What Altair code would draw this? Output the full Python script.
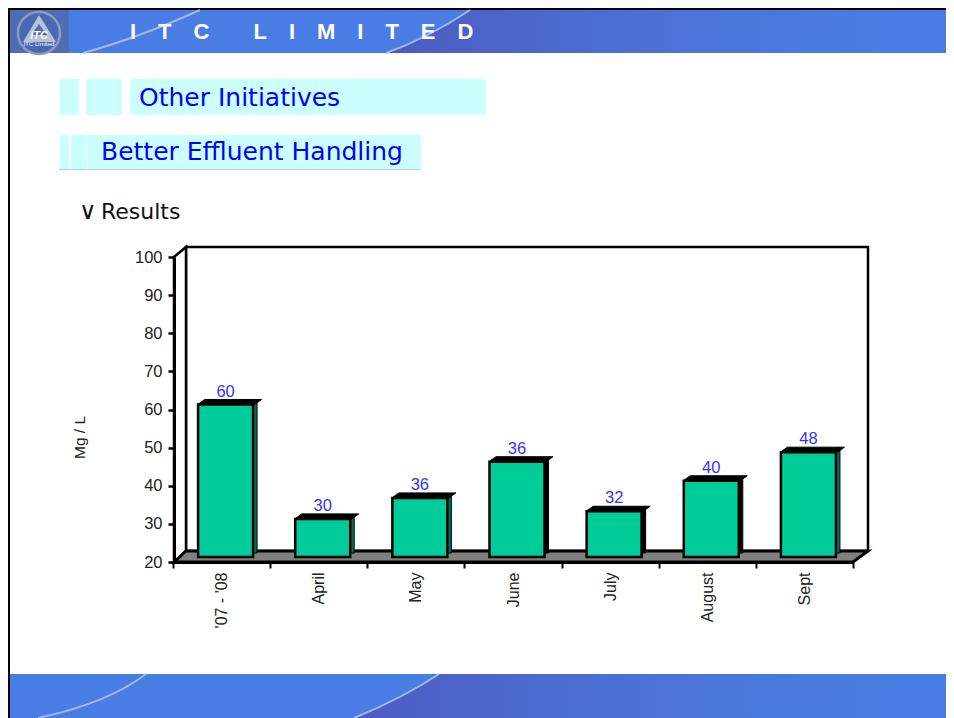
import altair as alt
import pandas as pd

# ---- chart values ----
months = ["'07 - '08", "April", "May", "June", "July", "August", "Sept"]
bar_heights = [60, 30, 35.5, 45, 32, 40, 47.5]
bar_labels = ["60", "30", "36", "36", "32", "40", "48"]
side_colours = ["#00705a", "#00705a", "#00705a", "#000000", "#000000", "#000000", "#00705a"]
y_ticks = [20, 30, 40, 50, 60, 70, 80, 90, 100]

W, H = 938, 710
table = pd.DataFrame({"month": months, "height": bar_heights, "label": bar_labels, "side": side_colours})
one = alt.Data(values=[{"k": 0}])

FONT = "Liberation Sans"
LIGHT = "#4a7de3"


def shape(path, fill="transparent", stroke="transparent", sw=0):
    """Decoration drawn as a custom symbol (size 4 = path units are pixels)."""
    return alt.Chart(one).mark_point(
        shape=path, size=4, filled=True, fill=fill, stroke=stroke, strokeWidth=sw, opacity=1
    ).encode(x=alt.value(0), y=alt.value(0))


def box(x0, y0, x1, y1, fill):
    return alt.Chart(one).mark_rect(fill=fill).encode(
        x=alt.value(x0), x2=alt.value(x1), y=alt.value(y0), y2=alt.value(y1)
    )


def label(txt, x, y, size, color, font=FONT, weight="normal", align="left", style="normal", angle=0):
    return alt.Chart(one).mark_text(
        text=txt, font=font, fontSize=size, color=color, fontWeight=weight, align=align,
        baseline="alphabetic", fontStyle=style, angle=angle
    ).encode(x=alt.value(x), y=alt.value(y))


def band_gradient():
    return alt.LinearGradient(
        gradient="linear", x1=0, x2=1, y1=0, y2=0,
        stops=[
            alt.GradientStop(offset=0, color="#4d5bc2"),
            alt.GradientStop(offset=0.25, color="#4c67cc"),
            alt.GradientStop(offset=0.55, color="#4b74da"),
            alt.GradientStop(offset=0.9, color=LIGHT),
            alt.GradientStop(offset=1, color=LIGHT),
        ],
    )


decor = [
    # page frame
    box(0, 0, W, 2, "#000000"),
    box(0, 0, 2, H, "#000000"),
    # top banner
    box(2, 2, 380, 45, LIGHT),
    box(380, 2, W, 45, band_gradient()),
    shape("M378 2 L462 2 Q420 30 378 45 Z", fill=LIGHT),
    shape("M75 45 Q130 30 192 2", stroke="#9fb8ef", sw=2),
    shape("M378 45 Q420 30 462 2", stroke="#9fb8ef", sw=2),
    # bottom banner
    box(2, 666, 340, H, LIGHT),
    box(340, 666, W, H, band_gradient()),
    shape("M340 666 L431 666 Q395 690 346 710 L340 710 Z", fill=LIGHT),
    shape("M138 666 Q100 695 30 710", stroke="#9fb8ef", sw=2),
    shape("M431 666 Q395 690 346 710", stroke="#9fb8ef", sw=2),
    # logo
    box(2, 2, 61, 45, "#4f6db4"),
    shape("M31 4 A 21 21 0 1 1 30.9 4 Z", fill="#4a69b0", stroke="#8a9cc6", sw=2.5),
    shape("M31 7 L48 34 L15 34 Z", fill="#b4c3da"),
    shape("M31 16 L39 27 L23 27 Z", fill="#4f6db4"),
    label("ITC", 31, 31, 11, "#ffffff", weight="bold", align="center", style="italic"),
    label("ITC Limited", 31, 38, 6, "#ffffff", align="center"),
    # banner title
    label("I\u2003T\u2003C\u2003\u2003L\u2003I\u2003M\u2003I\u2003T\u2003E\u2003D", 122, 31, 22, "#ffffff", weight="bold"),
    # heading boxes
    box(52, 71, 71, 107, "#ccffff"),
    box(78, 71, 114, 107, "#ccffff"),
    box(122, 71, 478, 107, "#ccffff"),
    box(52, 127, 61, 162, "#ccffff"),
    box(63, 127, 79, 162, "#ccffff"),
    box(80, 127, 413, 162, "#ccffff"),
    box(51, 161, 413, 162, "#a8d4d4"),
    label("Other Initiatives", 131, 98, 25, "#0000ff", font="DejaVu Sans"),
    label("Better Effluent Handling", 93, 152, 25, "#0000ff", font="DejaVu Sans"),
    label("\u2228", 71, 211, 24, "#111111", font="DejaVu Sans"),
    label("Results", 93, 211, 22, "#111111", font="DejaVu Sans"),
    # 3-D chart box
    box(178, 239, 860, 543, "#ffffff"),
    shape("M178 239 L860 239 L860 543 L178 543 Z", stroke="#000000", sw=2.5),
    shape("M166 249 L178 239 L178 543 L166 554 Z", fill="#ffffff", stroke="#000000", sw=2.5),
    shape("M166 554 L178 543 L860 543 L845 554 Z", fill="#808080", stroke="#000000", sw=3),
]

x_enc = alt.X(
    "month:N",
    sort=months,
    scale=alt.Scale(domain=months, range=[165, 845], paddingInner=0, paddingOuter=0),
    axis=alt.Axis(
        title=None, labelAngle=-90, labelFont=FONT, labelFontSize=16, labelColor="#222222",
        tickBand="extent", tickSize=6, tickWidth=2, tickColor="#000000", domainWidth=3, domainColor="#000000",
        offset=554 - H, labelPadding=4, grid=False, zindex=1,
    ),
)
y_enc = alt.Y(
    "height:Q",
    scale=alt.Scale(domain=[20, 100], range=[554, 249], nice=False, zero=False),
    axis=alt.Axis(
        title="Mg / L", titleFont=FONT, titleFontSize=15.5, titleFontWeight="normal", titleColor="#222222",
        titleX=-87, titleY=429, titleAngle=270,
        values=y_ticks, labelFont=FONT, labelFontSize=16.5, labelColor="#222222", labelPadding=6,
        tickSize=6, tickWidth=2.5, tickColor="#000000", domainWidth=3, domainColor="#000000",
        offset=-166, grid=False, zindex=1,
    ),
)

base = alt.Chart(table)
side = base.mark_bar(size=5, xOffset=33, yOffset=-9, y2Offset=-9, stroke="#000000", strokeWidth=1).encode(
    x=x_enc, y=y_enc, y2=alt.datum(20), fill=alt.Fill("side:N", scale=None)
)
front = base.mark_bar(size=55, xOffset=4, yOffset=-5, y2Offset=-5, fill="#00cc99", stroke="#000000", strokeWidth=2.5).encode(
    x=x_enc, y=y_enc, y2=alt.datum(20)
)
cap = base.mark_point(
    shape="M-24 -5 L-17 -10 L40 -10 L33 -5 Z", size=4, filled=True, fill="#000000",
    stroke="#000000", strokeWidth=1, opacity=1
).encode(x=x_enc, y=y_enc)
values = base.mark_text(font=FONT, fontSize=16.5, color="#3333ff", baseline="middle", dx=4, dy=-18).encode(
    x=x_enc, y=y_enc, text="label:N"
)

chart = alt.layer(*decor, side, front, cap, values).properties(
    width=W, height=H, padding=0, autosize=alt.AutoSizeParams(type="none"), background="#ffffff"
).configure_view(stroke=None)

chart.save("out.html", embed_options={"renderer": "svg", "actions": False})
